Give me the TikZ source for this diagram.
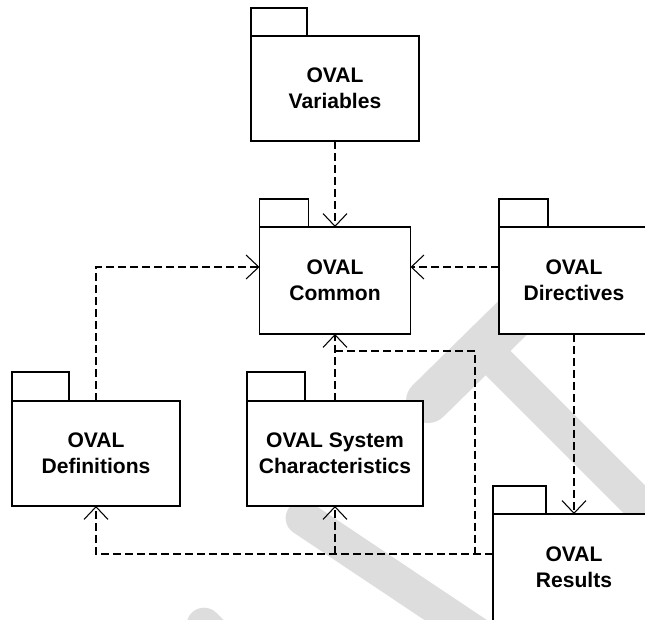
\documentclass[tikz,border=0pt]{standalone}
\usepackage{fontspec}
\setmainfont{Liberation Sans}
\usetikzlibrary{arrows.meta}
\definecolor{wm}{RGB}{221,221,221}
\begin{document}
\begin{tikzpicture}[x=0.75pt,y=-0.75pt,
  pkg/.style={draw, line width=1.1pt, fill=white, align=center, outer sep=0pt, inner sep=0pt,
    font=\bfseries\fontsize{15.8}{19.5}\selectfont},
  tab/.style={draw, line width=1.1pt, fill=white},
  dep/.style={line width=0.8pt, dash pattern=on 6pt off 3pt},
  arr/.style={-{Straight Barb[length=9.5pt,width=18pt,line width=0.8pt]}},
  wmark/.style={draw=wm, line cap=round}]
\fill[white] (0,0) rectangle (645,619);
\useasboundingbox (0,0) rectangle (645,619);
% watermark
\draw[wmark, line width=33pt] (428,401) -- (540,291);
\draw[wmark, line width=26pt] (483,348) -- (720,585);
\draw[wmark, line width=26pt] (303,518) -- (520,663);
\draw[wmark, line width=26pt] (204,625) -- (240,660);
% packages
\node[pkg, minimum width=126pt, minimum height=78.75pt] (var) at (335,88.5) {OVAL\\Variables};
\draw[tab] (var.north west) rectangle ++(56,-28);
\node[pkg, minimum width=113.25pt, minimum height=80.25pt] (com) at (335,280.5) {OVAL\\Common};
\draw[tab] (com.north west) rectangle ++(49,-28);
\node[pkg, minimum width=112.5pt, minimum height=80.25pt] (dir) at (574,280.5) {OVAL\\Directives};
\draw[tab] (dir.north west) rectangle ++(49,-28);
\node[pkg, minimum width=126pt, minimum height=78.75pt] (def) at (96,453.5) {OVAL\\Definitions};
\draw[tab] (def.north west) rectangle ++(57,-29);
\node[pkg, minimum width=132pt, minimum height=78.75pt] (sys) at (335,453.5) {OVAL System\\Characteristics};
\draw[tab] (sys.north west) rectangle ++(58,-29);
\node[pkg, minimum width=121.5pt, minimum height=80.25pt] (res) at (574,567.5) {OVAL\\Results};
\draw[tab] (res.north west) rectangle ++(53,-28);
% helper coordinates
\coordinate (lvl) at (0,267);
\coordinate (bot) at (0,554);
\coordinate (mid) at (0,351);
\coordinate (jr) at (475,554);
% connectors
\draw[dep,arr] (var.south) -- (com.north);
\draw[dep,arr] (dir.west |- lvl) -- (com.east |- lvl);
\draw[dep,arr] (def.north) |- (com.west |- lvl);
\draw[dep,arr] (sys.north) -- (com.south);
\draw[dep,arr] (dir.south) -- (res.north);
\draw[dep,arr] (res.west |- bot) -| (def.south);
\draw[dep,arr] (sys.south |- bot) -- (sys.south);
\draw[dep] (sys.north |- mid) -| (jr);
\end{tikzpicture}
\end{document}
